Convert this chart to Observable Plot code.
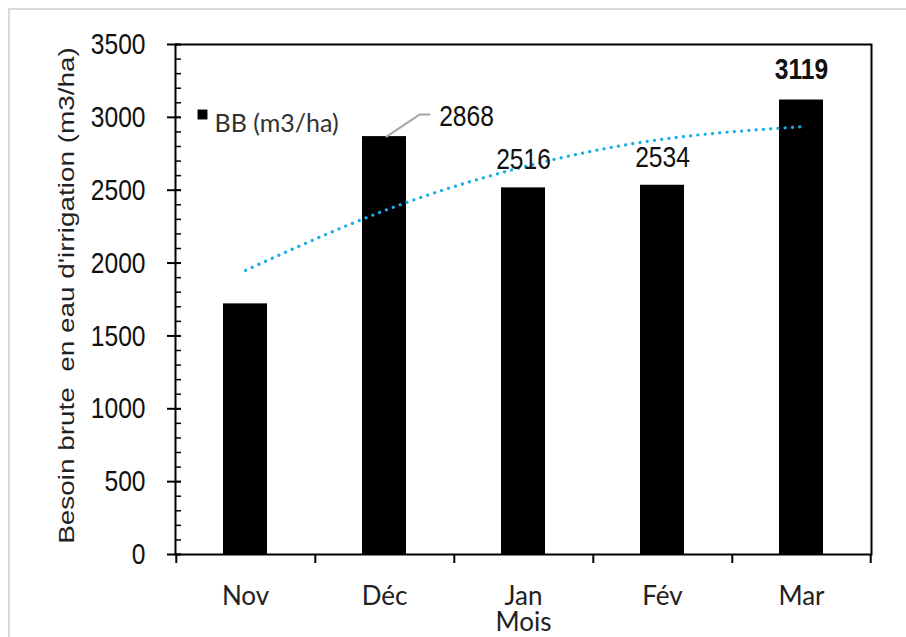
<!DOCTYPE html>
<html><head><meta charset="utf-8">
<script src="https://cdn.jsdelivr.net/npm/d3@7"></script>
<script src="https://cdn.jsdelivr.net/npm/@observablehq/plot@0.6"></script>
<style>
body{margin:0;background:#fff;}
#wrap{position:relative;width:906px;height:637px;overflow:hidden;background:#fff;}
#frame{position:absolute;left:8px;top:8px;width:1000px;height:1000px;border-left:2px solid #d9d9d9;border-top:2px solid #d9d9d9;}
#chart{position:absolute;left:0;top:0;}
</style></head><body><div id="wrap"><div id="frame"></div><div id="chart"></div></div>
<script>
const months = ["Nov", "Déc", "Jan", "Fév", "Mar"];
const besoin = [1720, 2868, 2516, 2534, 3119];
const tendance = [1950, 2360, 2660, 2850, 2935];
const yTicks = [0, 500, 1000, 1500, 2000, 2500, 3000, 3500];
const yMinor = d3.range(0, 3600, 100);
const labelPlain = ["Jan", "Fév"];
const labelLeader = ["Déc"];
const labelBold = ["Mar"];
const legendLabel = "BB (m3/ha)";
const yTitle = "Besoin brute  en eau d'irrigation (m3/ha)";
const xTitle = "Mois";

const data = months.map((m, i) => ({month: m, value: besoin[i], trend: tendance[i]}));
const NUM = "'Liberation Sans',Arial,sans-serif";
const CAL = "Lato, 'Open Sans', sans-serif";

const chart = Plot.plot({
  width: 906, height: 637,
  marginLeft: 175, marginRight: 35, marginTop: 44, marginBottom: 83,
  style: {background: "transparent", overflow: "visible"},
  x: {domain: months, paddingInner: 0.68, paddingOuter: 0.34, label: null},
  y: {domain: [0, 3500], label: null},
  marks: [
    Plot.barY(data, {x: "month", y: "value", fill: "black"}),
    Plot.line(data, {x: "month", y: "trend", stroke: "#16aee8", strokeWidth: 3.2, strokeDasharray: "0.1 7.2", strokeLinecap: "round", curve: "natural"}),
    Plot.frame({stroke: "black", strokeWidth: 2}),
    Plot.axisY({ticks: yMinor, tickSize: 6, dx: 6, tickFormat: () => "", label: null, strokeWidth: 1.5}),
    Plot.axisY({ticks: yTicks, tickSize: 14, dx: 6, tickPadding: 22, tickFormat: d => String(d), label: null, strokeWidth: 2, fontSize: 30, fontFamily: NUM, fill: "#111"}),
    Plot.axisX({ticks: months, tickSize: 9, dx: -69.2, tickFormat: () => "", label: null, strokeWidth: 2}),
    Plot.axisX({ticks: ["Mar"], tickSize: 9, dx: 69.2, tickFormat: () => "", label: null, strokeWidth: 2}),
    Plot.axisX({ticks: months, tickSize: 0, tickPadding: 32, label: null, fontSize: 26, fontFamily: CAL, fill: "#222"}),
    Plot.text([xTitle], {frameAnchor: "bottom", dy: 76, text: d => d, fontSize: 26, fontFamily: CAL, fill: "#222"}),
    Plot.text([yTitle], {frameAnchor: "left", dx: -109, dy: -4, rotate: -90, textAnchor: "middle", text: d => d, fontSize: 22.5, fontFamily: NUM, fill: "#222"}),
    Plot.dot([legendLabel], {frameAnchor: "top-left", dx: 27, dy: 70, symbol: "square", r: 5.6, fill: "black"}),
    Plot.text([legendLabel], {frameAnchor: "top-left", dx: 39, dy: 70, text: d => d, textAnchor: "start", fontSize: 25, fontFamily: CAL, fill: "#333"}),
    Plot.text(data.filter(d => labelPlain.includes(d.month)), {x: "month", y: "value", text: d => String(d.value), dy: -28, fontSize: 30, fontFamily: NUM, fill: "#111"}),
    Plot.text(data.filter(d => labelBold.includes(d.month)), {x: "month", y: "value", text: d => String(d.value), dy: -31, fontSize: 30, fontWeight: "bold", fontFamily: NUM, fill: "#111"}),
    Plot.text(data.filter(d => labelLeader.includes(d.month)), {x: "month", y: "value", text: d => String(d.value), dx: 82, dy: -20, fontSize: 30, fontFamily: NUM, fill: "#111"}),
    Plot.vector(data.filter(d => labelLeader.includes(d.month)), {x: "month", y: "value", dx: 2, length: 30, anchor: "start", stroke: "#a6a6a6", strokeWidth: 2,
      shape: {draw(ctx, l) { ctx.moveTo(0, 0); ctx.lineTo(33, -22); ctx.lineTo(43, -22); }}})
  ]
});
function scaleText(nodes, s) {
  nodes.forEach(t => {
    const tr = t.getAttribute("transform") || "";
    t.setAttribute("transform", `${tr} scale(${s},1)`);
  });
}
scaleText(chart.querySelectorAll('g[aria-label="y-axis tick label"] text'), 0.82);
const textNodes = Array.from(chart.querySelectorAll('g[aria-label="text"] text'));
scaleText(textNodes.filter(t => /^\d+$/.test(t.textContent)), 0.82);
scaleText(textNodes.filter(t => t.textContent === yTitle), 1.24);
document.getElementById("chart").appendChild(chart);
</script></body></html>
